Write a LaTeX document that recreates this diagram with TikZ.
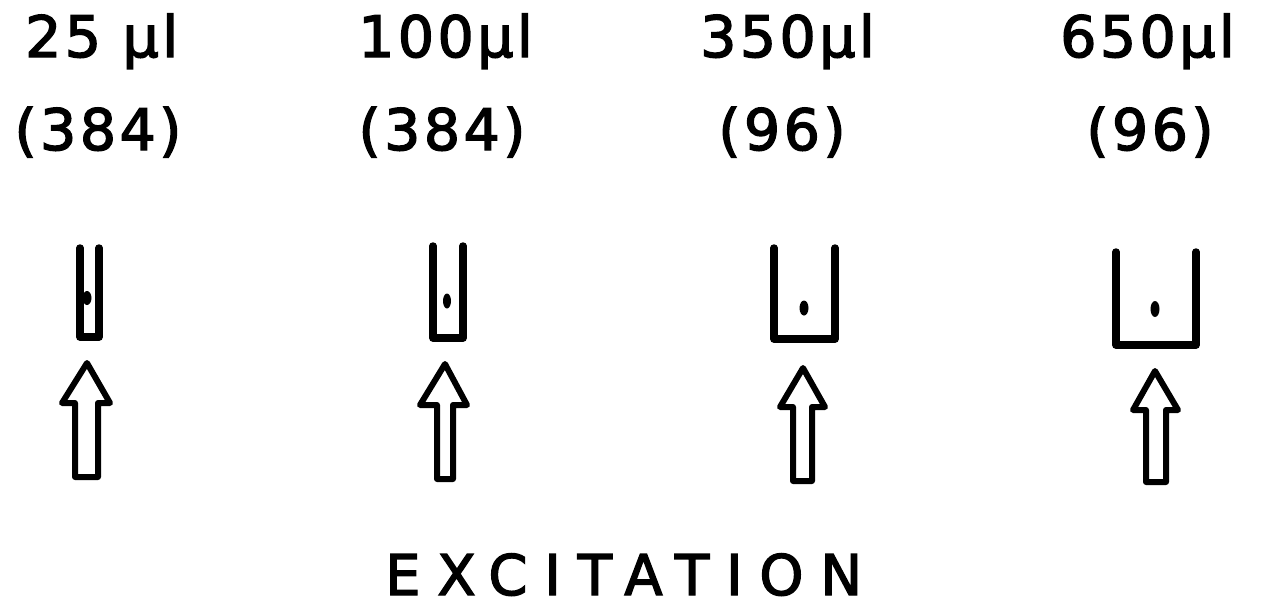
\documentclass[tikz,border=0pt]{standalone}
\usepackage{fontspec}
\setmainfont{DejaVu Sans}
\newfontfamily\labfont[LetterSpace=6,FakeBold=2.5]{DejaVu Sans}
\newfontfamily\capfont[LetterSpace=30,FakeBold=2.5]{DejaVu Sans}
\begin{document}
\begin{tikzpicture}[x=1pt,y=-1pt]
\tikzset{
  vol/.style={font=\labfont\fontsize{57}{60}\selectfont, inner sep=0pt, anchor=base west},
  count/.style={font=\labfont\fontsize{57}{60}\selectfont, inner sep=0pt, anchor=base},
  title/.style={font=\capfont\fontsize{56}{60}\selectfont, inner sep=0pt, anchor=base west},
  wall/.style={line width=7.5pt, line cap=round, line join=round},
  drop/.style={fill=black},
  beam/.style={line width=6pt, line join=round, fill=white}
}
\useasboundingbox (0,0) rectangle (1271,606);

% volume labels
\node[vol] (v1) at (25,57) {25 µl};
\node[vol] (v2) at (358,57) {100µl};
\node[vol] (v3) at (700,57) {350µl};
\node[vol] (v4) at (1060,57) {650µl};

% well counts
\node[count] (n1) at (98,150) {(384)};
\node[count] (n2) at (442,150) {(384)};
\node[count] (n3) at (782,150) {(96)};
\node[count] (n4) at (1150,150) {(96)};

% wells (open-top cross sections) with the sample drop
\draw[wall] (80,248) |- (99,337) -- (99,248);
\fill[drop] (87,298) ellipse [x radius=4.5pt, y radius=7pt];
\draw[wall] (433,246) |- (463,338) -- (463,246);
\fill[drop] (447,301) ellipse [x radius=4pt, y radius=7.5pt];
\draw[wall] (774,248) |- (835,339) -- (835,248);
\fill[drop] (804,308) ellipse [x radius=4.5pt, y radius=7.5pt];
\draw[wall] (1116,252) |- (1196,345) -- (1196,252);
\fill[drop] (1155,309) ellipse [x radius=4.5pt, y radius=8pt];

% excitation beams
\draw[beam] (87,363) -- (110,403) -- (98,403) -- (98,477) -- (75,477) -- (75,403) -- (62,403) -- cycle;
\draw[beam] (445,364) -- (467,405) -- (453,405) -- (453,479) -- (437,479) -- (437,405) -- (420,405) -- cycle;
\draw[beam] (803,368) -- (825,407) -- (812,407) -- (812,481) -- (793,481) -- (793,407) -- (780,407) -- cycle;
\draw[beam] (1155,371) -- (1178,410) -- (1166,410) -- (1166,482) -- (1146,482) -- (1146,410) -- (1133,410) -- cycle;

\node[title] (ex) at (385,595) {EXCITATION};
\end{tikzpicture}
\end{document}
